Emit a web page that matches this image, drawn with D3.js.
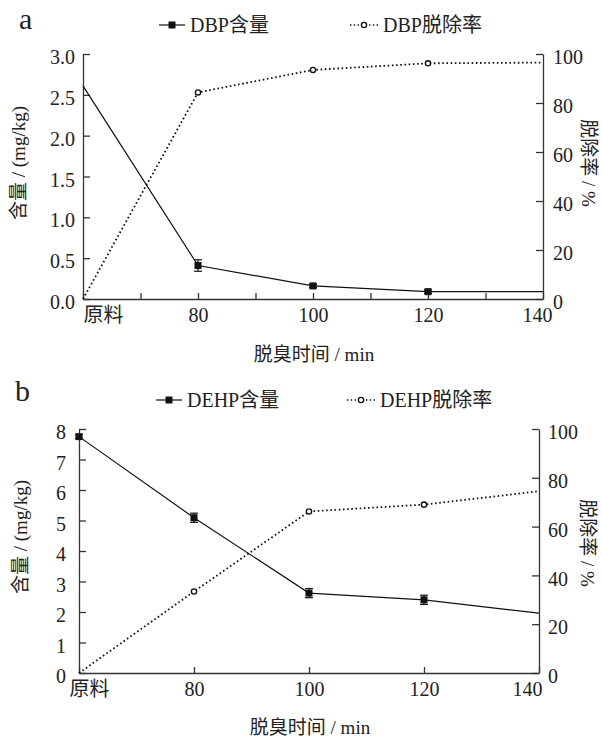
<!DOCTYPE html>
<html>
<head>
<meta charset="utf-8">
<script src="https://cdn.jsdelivr.net/npm/d3@7"></script>
<style>
  body { margin: 0; background: #fff; }
  svg text { font-family: "Liberation Serif", "Noto Sans CJK SC", serif; fill: #222; }
</style>
</head>
<body>
<div id="chart"></div>
<script>
// times (60 = 原料, raw material)
var times = [60, 80, 100, 120, 140];

// panel a - DBP
var dbpContent = [2.61, 0.41, 0.16, 0.09, 0.09];
var dbpErr = [0, 0.07, 0.02, 0.02, 0];
var dbpRate = [0, 84.3, 93.5, 96.2, 96.5];
var dbpShow = [false, true, true, true, false];

// panel b - DEHP
var dehpContent = [7.75, 5.09, 2.62, 2.40, 1.96];
var dehpErr = [0.06, 0.15, 0.15, 0.15, 0];
var dehpRate = [0, 33.4, 66.2, 69.0, 74.5];
var dehpShow = [true, true, true, true, false];

var xTicksA = [60, 70, 80, 90, 100, 110, 120, 130, 140];
var xTicksB = [60, 80, 100, 120, 140];
var yTicksA = [0, 0.5, 1, 1.5, 2, 2.5, 3];
var yTicksB = [0, 1, 2, 3, 4, 5, 6, 7, 8];
var rTicks = [0, 20, 40, 60, 80, 100];

var svg = d3.select("#chart").append("svg")
    .attr("width", 602)
    .attr("height", 740);

function xFormat(d) {
    if (d == 60) return "原料";
    if (d % 20 == 0) return d;
    return "";
}

function drawPanel(p) {
    var x = d3.scaleLinear().domain([60, 140]).range([p.left, p.right]);
    var y = d3.scaleLinear().domain([0, p.yMax]).range([p.bottom, p.top]);
    var yr = d3.scaleLinear().domain([0, 100]).range([p.bottom, p.top]);

    var gx = svg.append("g")
        .attr("transform", "translate(0," + p.bottom + ")")
        .call(d3.axisBottom(x).tickValues(p.xTicks).tickFormat(xFormat)
            .tickSizeInner(-6).tickSizeOuter(0).tickPadding(9));
    gx.selectAll("text").filter(function(d){return d == 60;}).attr("dx", p.rawDx);
    gx.selectAll("text").filter(function(d){return d == 140;}).attr("dx", p.endDx);

    var gl = svg.append("g")
        .attr("transform", "translate(" + p.left + ",0)")
        .call(d3.axisLeft(y).tickValues(p.yTicks).tickFormat(p.yFmt)
            .tickSizeInner(-7).tickSizeOuter(0).tickPadding(p.leftPad));

    var gr = svg.append("g")
        .attr("transform", "translate(" + p.right + ",0)")
        .call(d3.axisRight(yr).tickValues(rTicks)
            .tickSizeInner(-7).tickSizeOuter(0).tickPadding(p.rightPad));

    [gx, gl, gr].forEach(function(g) {
        g.selectAll("text").attr("font-size", 20).style("fill", "#222");
        g.selectAll("line").attr("stroke", "#333").attr("stroke-width", 1.3);
        g.select(".domain").attr("stroke", "#333").attr("stroke-width", 1.3);
    });
    gl.selectAll("text").attr("dy", "0.48em");
    gr.selectAll("text").attr("dy", "0.48em");

    var line = d3.line().x(function(d, i){return x(times[i]);});

    // content line (solid)
    svg.append("path")
        .datum(p.content)
        .attr("d", line.y(function(d){return y(d);}))
        .attr("fill", "none").attr("stroke", "#111").attr("stroke-width", 1.2);

    // removal rate line (dotted)
    svg.append("path")
        .datum(p.rate)
        .attr("d", line.y(function(d){return yr(d);}))
        .attr("fill", "none").attr("stroke", "#111").attr("stroke-width", 1.8)
        .attr("stroke-dasharray", "1.6,2.6");

    // error bars
    p.content.forEach(function(v, i) {
        if (!p.show[i] || !p.err[i]) return;
        var cx = x(times[i]);
        var g = svg.append("g").attr("stroke", "#111").attr("stroke-width", 1.2);
        g.append("line").attr("x1", cx).attr("x2", cx)
            .attr("y1", y(v - p.err[i])).attr("y2", y(v + p.err[i]));
        g.append("line").attr("x1", cx - 4).attr("x2", cx + 4)
            .attr("y1", y(v - p.err[i])).attr("y2", y(v - p.err[i]));
        g.append("line").attr("x1", cx - 4).attr("x2", cx + 4)
            .attr("y1", y(v + p.err[i])).attr("y2", y(v + p.err[i]));
    });

    svg.selectAll(null)
        .data(p.content.map(function(v, i){return {v: v, i: i};}).filter(function(d){return p.show[d.i];}))
        .enter().append("rect")
        .attr("x", function(d){return x(times[d.i]) - 3.5;})
        .attr("y", function(d){return y(d.v) - 3.5;})
        .attr("width", 7).attr("height", 7)
        .attr("fill", "#111");

    svg.selectAll(null)
        .data(p.rate.map(function(v, i){return {v: v, i: i};}).filter(function(d){return d.i > 0 && d.i < 4;}))
        .enter().append("circle")
        .attr("cx", function(d){return x(times[d.i]);})
        .attr("cy", function(d){return yr(d.v);})
        .attr("r", 2.6)
        .attr("fill", "#fff").attr("stroke", "#111").attr("stroke-width", 1.4);

    // panel letter
    svg.append("text").attr("x", p.letterX).attr("y", p.letterY)
        .attr("font-size", 30).text(p.letter);

    // legend
    var lg = svg.append("g");
    lg.append("line").attr("x1", p.leg1[0]).attr("x2", p.leg1[0] + 26)
        .attr("y1", p.legY).attr("y2", p.legY).attr("stroke", "#111").attr("stroke-width", 1.2);
    lg.append("rect").attr("x", p.leg1[0] + 13 - 3.5).attr("y", p.legY - 3.5)
        .attr("width", 7).attr("height", 7).attr("fill", "#111");
    lg.append("text").attr("x", p.leg1[0] + 31).attr("y", p.legY)
        .attr("dy", "0.35em").attr("font-size", 20).text(p.name + "含量");

    lg.append("line").attr("x1", p.leg2[0]).attr("x2", p.leg2[0] + 28)
        .attr("y1", p.legY).attr("y2", p.legY).attr("stroke", "#111").attr("stroke-width", 1.6)
        .attr("stroke-dasharray", "1.4,2.4");
    lg.append("circle").attr("cx", p.leg2[0] + 14).attr("cy", p.legY).attr("r", 2.6)
        .attr("fill", "#fff").attr("stroke", "#111").attr("stroke-width", 1.4);
    lg.append("text").attr("x", p.leg2[0] + 33).attr("y", p.legY)
        .attr("dy", "0.35em").attr("font-size", 20).text(p.name + "脱除率");

    // axis titles
    svg.append("text")
        .attr("transform", "translate(" + p.lTitle[0] + "," + p.lTitle[1] + ") rotate(-90)")
        .attr("text-anchor", "middle").attr("dy", "0.35em").attr("font-size", 19)
        .text("含量 / (mg/kg)");
    svg.append("text")
        .attr("transform", "translate(" + p.rTitle[0] + "," + p.rTitle[1] + ") rotate(90)")
        .attr("text-anchor", "middle").attr("dy", "0.35em").attr("font-size", 19)
        .text("脱除率 / %");
    svg.append("text")
        .attr("x", p.xTitle[0]).attr("y", p.xTitle[1])
        .attr("text-anchor", "middle").attr("dy", "0.35em").attr("font-size", 19)
        .text("脱臭时间 / min");
}

drawPanel({
    letter: "a", letterX: 19, letterY: 29, name: "DBP",
    left: 83, right: 543, top: 54, bottom: 299, yMax: 3,
    xTicks: xTicksA, yTicks: yTicksA, yFmt: d3.format(".1f"),
    leftPad: 8, rightPad: 10, rawDx: 20, endDx: -6,
    content: dbpContent, err: dbpErr, rate: dbpRate, show: dbpShow,
    legY: 25, leg1: [159], leg2: [350],
    lTitle: [18, 163], rTitle: [589, 163], xTitle: [314, 354]
});

drawPanel({
    letter: "b", letterX: 15, letterY: 401, name: "DEHP",
    left: 79, right: 539, top: 429, bottom: 673, yMax: 8,
    xTicks: xTicksB, yTicks: yTicksB, yFmt: d3.format("d"),
    leftPad: 13, rightPad: 9, rawDx: 10, endDx: -12,
    content: dehpContent, err: dehpErr, rate: dehpRate, show: dehpShow,
    legY: 400, leg1: [156], leg2: [347],
    lTitle: [20, 537], rTitle: [588, 543], xTitle: [310, 727]
});
</script>
</body>
</html>
